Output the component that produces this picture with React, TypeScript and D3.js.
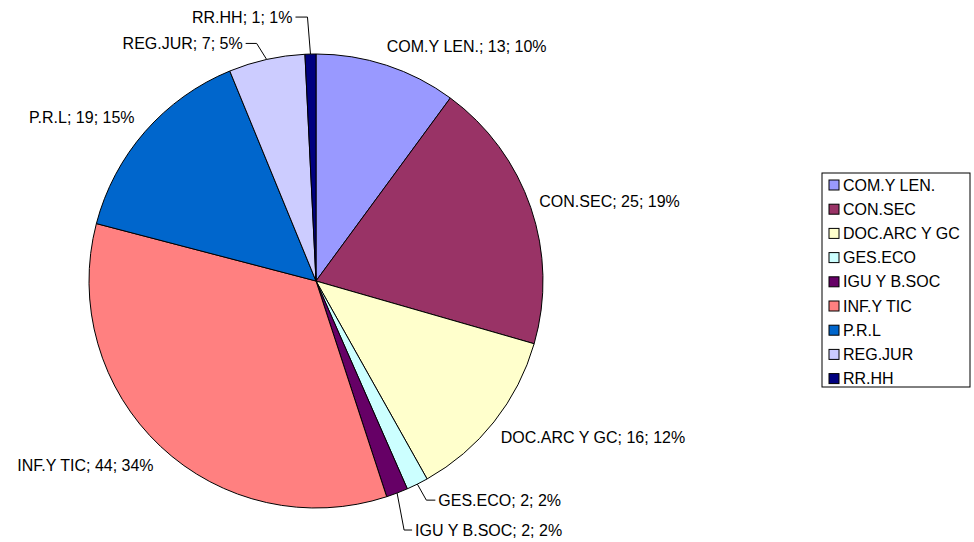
import React from 'react';
import * as d3 from 'd3';

const categories = ['COM.Y LEN.', 'CON.SEC', 'DOC.ARC Y GC', 'GES.ECO', 'IGU Y B.SOC', 'INF.Y TIC', 'P.R.L', 'REG.JUR', 'RR.HH'];
const counts = [13, 25, 16, 2, 2, 44, 19, 7, 1];
const percents = [10, 19, 12, 2, 2, 34, 15, 5, 1];
const colors = ['#9999FF', '#993366', '#FFFFCC', '#CCFFFF', '#660066', '#FF8080', '#0066CC', '#CCCCFF', '#000080'];

const W = 974;
const H = 542;
const cx = 316;
const cy = 281;
const R = 227;
const FONT = 'Arial, "Liberation Sans", sans-serif';

// label placement tweaks (relative to a point just outside the slice)
const labelNudge: Record<string, { dx: number; dy: number; anchor: 'start' | 'end' }> = {
  'COM.Y LEN.': { dx: -3, dy: -9, anchor: 'start' },
  'CON.SEC': { dx: -1, dy: -3, anchor: 'start' },
  'DOC.ARC Y GC': { dx: -1, dy: 9, anchor: 'start' },
  'INF.Y TIC': { dx: 0, dy: 12, anchor: 'end' },
  'P.R.L': { dx: -3, dy: -8, anchor: 'end' },
};

// labels pulled away with a leader line: elbow and text offsets from the slice edge
const leaders: Record<string, { ex: number; ey: number; tx: number; anchor: 'start' | 'end' }> = {
  'GES.ECO': { ex: 9, ey: 16, tx: 21, anchor: 'start' },
  'IGU Y B.SOC': { ex: 7, ey: 37, tx: 18, anchor: 'start' },
  'REG.JUR': { ex: -10, ey: -16, tx: -24, anchor: 'end' },
  'RR.HH': { ex: -3, ey: -37, tx: -18, anchor: 'end' },
};

const App: React.FC = () => {
  const data = categories.map((c, i) => ({ name: c, value: counts[i], pct: percents[i], color: colors[i] }));
  const pie = d3.pie<typeof data[number]>().value(d => d.value).sort(null);
  const arcs = pie(data);
  const arc = d3.arc<d3.PieArcDatum<typeof data[number]>>().innerRadius(0).outerRadius(R);

  const legendX = 822;
  const legendY = 173;
  const rowH = 24.2;

  return (
    <svg width={W} height={H} style={{ position: 'absolute', left: 0, top: 0, background: '#fff' }} fontFamily={FONT} fontSize={16}>
      <g transform={`translate(${cx},${cy})`}>
        {arcs.map(a => (
          <path key={a.data.name} d={arc(a) || ''} fill={a.data.color} stroke="#000" strokeWidth={1} />
        ))}
      </g>
      {arcs.map(a => {
        const mid = (a.startAngle + a.endAngle) / 2;
        const label = `${a.data.name}; ${a.data.value}; ${a.data.pct}%`;
        const ld = leaders[a.data.name];
        if (ld) {
          const x0 = cx + R * Math.sin(mid);
          const y0 = cy - R * Math.cos(mid);
          const ex = x0 + ld.ex;
          const ey = y0 + ld.ey;
          const tx = x0 + ld.tx;
          return (
            <g key={a.data.name}>
              <polyline points={`${x0},${y0} ${ex},${ey} ${tx + (ld.anchor === 'start' ? -3 : 3)},${ey}`} fill="none" stroke="#000" strokeWidth={1} />
              <text x={tx} y={ey} dy="0.35em" textAnchor={ld.anchor} fill="#000">{label}</text>
            </g>
          );
        }
        const n = labelNudge[a.data.name];
        const x = cx + (R + 10) * Math.sin(mid) + n.dx;
        const y = cy - (R + 10) * Math.cos(mid) + n.dy;
        return (
          <text key={a.data.name} x={x} y={y} dy="0.35em" textAnchor={n.anchor} fill="#000">{label}</text>
        );
      })}
      <rect x={legendX} y={legendY} width={148} height={214} fill="#fff" stroke="#000" strokeWidth={1} />
      {data.map((d, i) => (
        <g key={d.name} transform={`translate(${legendX + 7},${legendY + 12 + i * rowH})`}>
          <rect x={0} y={-5} width={10} height={10} fill={d.color} stroke="#000" strokeWidth={1} />
          <text x={14} y={0} dy="0.35em" fill="#000">{d.name}</text>
        </g>
      ))}
    </svg>
  );
};

export default App;
